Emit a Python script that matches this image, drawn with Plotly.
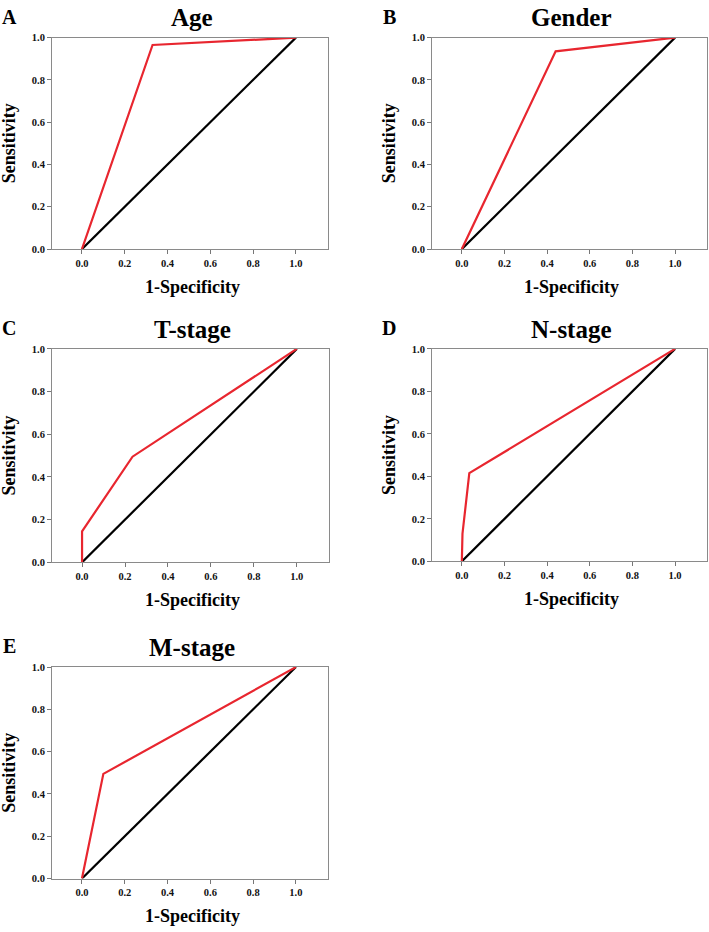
import plotly.graph_objects as go

W, H = 709, 932

# ROC points (x = 1-specificity, y = sensitivity)
age_x = [0.0, 0.33, 1.0]
age_y = [0.0, 0.965, 1.0]
gender_x = [0.0, 0.44, 1.0]
gender_y = [0.0, 0.935, 1.0]
tstage_x = [0.0, 0.0, 0.235, 1.0]
tstage_y = [0.0, 0.145, 0.495, 1.0]
nstage_x = [0.0, 0.003, 0.035, 1.0]
nstage_y = [0.0, 0.13, 0.415, 1.0]
mstage_x = [0.0, 0.10, 1.0]
mstage_y = [0.0, 0.495, 1.0]
ref_x = [0.0, 1.0]
ref_y = [0.0, 1.0]

titles = ["Age", "Gender", "T-stage", "N-stage", "M-stage"]
letters = ["A", "B", "C", "D", "E"]
tick_vals = [0.0, 0.2, 0.4, 0.6, 0.8, 1.0]
tick_text = ["0.0", "0.2", "0.4", "0.6", "0.8", "1.0"]

curves = [(age_x, age_y), (gender_x, gender_y), (tstage_x, tstage_y),
          (nstage_x, nstage_y), (mstage_x, mstage_y)]

# plot frames in pixels: left, right, top, bottom
frames = [(52, 328, 33, 247), (432, 707, 33, 247),
          (52, 329, 348, 564), (432, 707, 348, 563),
          (52, 328, 670, 884)]

FONT = "Liberation Serif, Times New Roman, serif"

fig = go.Figure()
layout = dict(width=W, height=H, margin=dict(l=0, r=0, t=0, b=0),
              paper_bgcolor="white", plot_bgcolor="white", showlegend=False,
              font=dict(family=FONT, color="black"))
annotations = []

for i, ((cx, cy), (l, r, t, b)) in enumerate(zip(curves, frames)):
    n = "" if i == 0 else str(i + 1)
    xa, ya = "x" + n, "y" + n
    fig.add_trace(go.Scatter(x=ref_x, y=ref_y, mode="lines", xaxis=xa, yaxis=ya,
                             line=dict(color="black", width=2.2)))
    fig.add_trace(go.Scatter(x=cx, y=cy, mode="lines", xaxis=xa, yaxis=ya,
                             line=dict(color="#e8262f", width=2.2)))
    axis_common = dict(showgrid=False, zeroline=False, showline=True, mirror=True,
                       linecolor="#8a8a8a", linewidth=1, ticks="outside", ticklen=4,
                       tickcolor="#777", tickvals=tick_vals,
                       ticktext=["<b>%s</b>" % s for s in tick_text],
                       tickfont=dict(family=FONT, size=10.5, color="#111"))
    layout["xaxis" + n] = dict(axis_common, domain=[l / W, r / W], anchor=ya,
                               range=[-0.14, 1.15])
    layout["yaxis" + n] = dict(axis_common, domain=[1 - b / H, 1 - t / H], anchor=xa,
                               range=[0, 1])
    cxp = (l + r) / 2 + 2
    annotations.append(dict(text="<b>%s</b>" % titles[i], x=cxp / W, y=1 - (t - 20) / H,
                            xref="paper", yref="paper", showarrow=False,
                            font=dict(size=25), xanchor="center", yanchor="middle"))
    annotations.append(dict(text="<b>%s</b>" % letters[i], x=(l - 43) / W, y=1 - (t - 21) / H,
                            xref="paper", yref="paper", showarrow=False,
                            font=dict(size=20), xanchor="center", yanchor="middle"))
    annotations.append(dict(text="<b>1-Specificity</b>", x=cxp / W, y=1 - (b + 38) / H,
                            xref="paper", yref="paper", showarrow=False,
                            font=dict(size=18), xanchor="center", yanchor="middle"))
    annotations.append(dict(text="<b>Sensitivity</b>", x=(l - 43) / W, y=1 - (t + b) / 2 / H,
                            xref="paper", yref="paper", showarrow=False, textangle=-90,
                            font=dict(size=18), xanchor="center", yanchor="middle"))

layout["annotations"] = annotations
fig.update_layout(**layout)
# the page body has a default 8px margin; drop it so the figure sits at 0,0
fig.write_html("out.html", config={"displayModeBar": False},
               post_script="document.body.style.margin='0px';")
